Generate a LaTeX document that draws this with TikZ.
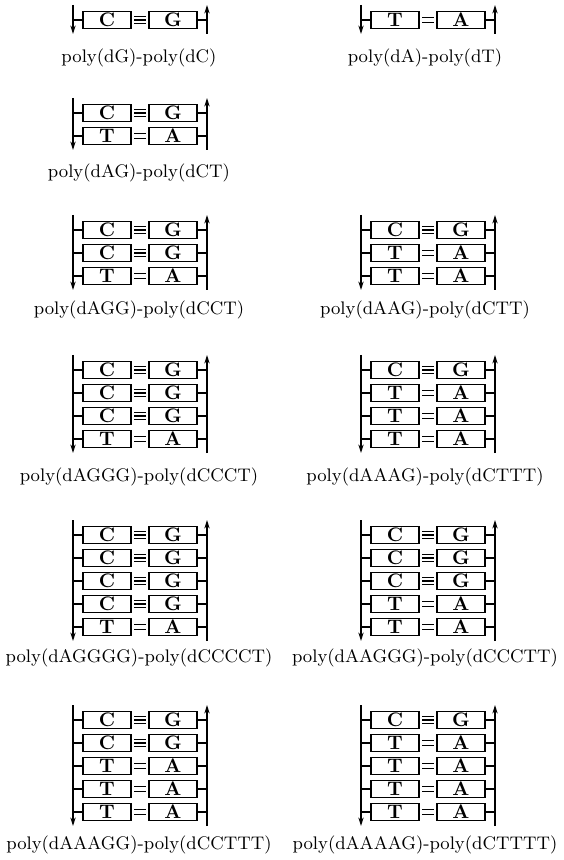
\documentclass[tikz,border=0pt]{standalone}
\usetikzlibrary{arrows.meta}
\tikzset{
  base/.style={draw, line width=0.7pt, minimum width=24pt, minimum height=8.6pt, inner sep=0pt, font=\fontsize{9.8}{9.8}\selectfont\bfseries},
  strand/.style={line width=0.95pt},
  tick/.style={line width=0.7pt},
  bond/.style={line width=0.55pt},
  lab/.style={font=\fontsize{9.1}{11}\selectfont, inner sep=0pt},
  tip/.style={-{Stealth[length=4.2pt,width=2.6pt]}}
}
\newcommand\duplex[5]{%
  \coordinate (#1-lt) at ({#2-67},{#3-15});
  \coordinate (#1-lb) at ({#2-67},{#3+(#4-1)*23+14});
  \coordinate (#1-rt) at ({#2+67},{#3-15});
  \coordinate (#1-rb) at ({#2+67},{#3+(#4-1)*23+14});
  \foreach \lb/\rb/\nb [count=\i] in {#5}{%
    \node[base] (#1-L\i) at ({#2-33},{#3+(\i-1)*23}) {\lb};
    \node[base] (#1-R\i) at ({#2+33},{#3+(\i-1)*23}) {\rb};
    \draw[tick] (#1-L\i.west) -- (#1-lt |- #1-L\i.west);
    \draw[tick] (#1-R\i.east) -- (#1-rt |- #1-R\i.east);
    \ifnum\nb=3
      \foreach \o in {-1.7,0,1.7}{\draw[bond] ([xshift=1.3pt,yshift=\o pt]#1-L\i.east) -- ([xshift=-1.3pt,yshift=\o pt]#1-R\i.west);}
    \else
      \foreach \o in {-1.1,1.1}{\draw[bond] ([xshift=1.3pt,yshift=\o pt]#1-L\i.east) -- ([xshift=-1.3pt,yshift=\o pt]#1-R\i.west);}
    \fi
  }
  \draw[strand,tip] (#1-lt) -- (#1-lb);
  \draw[strand,tip] (#1-rb) -- (#1-rt);
}
\begin{document}
\begin{tikzpicture}[x=0.5pt,y=-0.5pt]
\useasboundingbox (0,0) rectangle (563,860);
\duplex{a}{140}{20}{1}{C/G/3}
\duplex{b}{428}{20}{1}{T/A/2}
\duplex{c}{140}{113}{2}{C/G/3,T/A/2}
\duplex{d}{140}{230}{3}{C/G/3,C/G/3,T/A/2}
\duplex{e}{428}{230}{3}{C/G/3,T/A/2,T/A/2}
\duplex{f}{140}{370}{4}{C/G/3,C/G/3,C/G/3,T/A/2}
\duplex{g}{428}{370}{4}{C/G/3,T/A/2,T/A/2,T/A/2}
\duplex{h}{140}{535}{5}{C/G/3,C/G/3,C/G/3,C/G/3,T/A/2}
\duplex{i}{428}{535}{5}{C/G/3,C/G/3,C/G/3,T/A/2,T/A/2}
\duplex{j}{140}{720}{5}{C/G/3,C/G/3,T/A/2,T/A/2,T/A/2}
\duplex{k}{428}{720}{5}{C/G/3,T/A/2,T/A/2,T/A/2,T/A/2}
\node[lab] (la) at (139,58) {poly(dG)-poly(dC)};
\node[lab] (lb) at (425,58) {poly(dA)-poly(dT)};
\node[lab] (lc) at (139,173) {poly(dAG)-poly(dCT)};
\node[lab] (ld) at (139,310) {poly(dAGG)-poly(dCCT)};
\node[lab] (le) at (425,310) {poly(dAAG)-poly(dCTT)};
\node[lab] (lf) at (139,477) {poly(dAGGG)-poly(dCCCT)};
\node[lab] (lg) at (425,477) {poly(dAAAG)-poly(dCTTT)};
\node[lab] (lh) at (139,658) {poly(dAGGGG)-poly(dCCCCT)};
\node[lab] (li) at (425,658) {poly(dAAGGG)-poly(dCCCTT)};
\node[lab] (lj) at (139,845) {poly(dAAAGG)-poly(dCCTTT)};
\node[lab] (lk) at (425,845) {poly(dAAAAG)-poly(dCTTTT)};
\end{tikzpicture}
\end{document}
